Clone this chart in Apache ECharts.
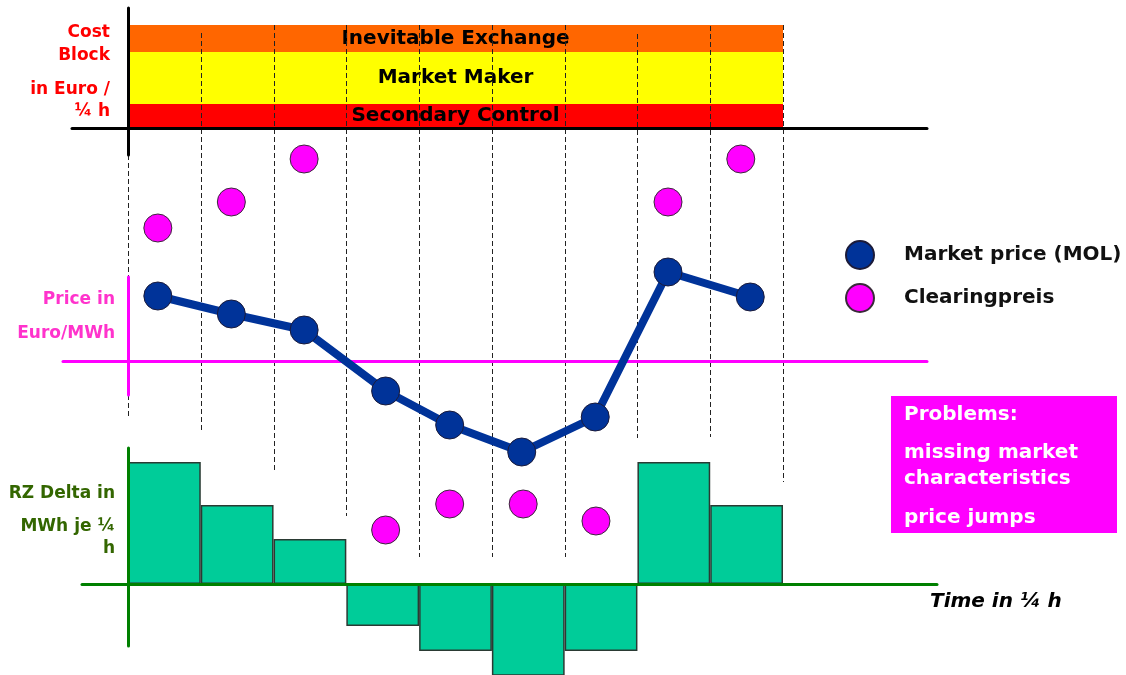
<!DOCTYPE html>
<html>
<head>
<meta charset="utf-8">
<script src="https://cdn.jsdelivr.net/npm/echarts@6/dist/echarts.min.js"></script>
<style>html,body{margin:0;padding:0;background:#fff}#chart{width:1126px;height:675px}</style>
</head>
<body>
<div id="chart"></div>
<script>
// ---------- data ----------
const quarterHours = [1, 2, 3, 4, 5, 6, 7, 8, 9];
// cost block components (Euro / 1/4 h, schematic)
const costNames = ['Secondary Control', 'Market Maker', 'Inevitable Exchange'];
const costValues = [2.4, 5.2, 2.7];
// Market price (MOL): [time position in 1/4 h, price]
const marketPriceX = [0.41, 1.42, 2.42, 3.54, 4.42, 5.41, 6.42, 7.42, 8.55];
const marketPrice  = [6.5, 4.7, 3.1, -3.0, -6.4, -9.1, -5.6, 8.9, 6.4];
// Clearingpreis
const clearingX     = [0.41, 1.42, 2.42, 3.54, 4.42, 5.43, 6.43, 7.42, 8.42];
const clearingPrice = [13.3, 15.9, 20.2, -16.9, -14.3, -14.3, -16.0, 15.9, 20.2];
// RZ Delta in MWh je 1/4 h
const rzDelta = [12.2, 7.9, 4.5, -4.2, -6.7, -11, -6.7, 12.2, 7.9];
// dashed quarter-hour dividers: [boundary, top, bottom] in price-axis units
const dividerBoundary = [0, 1, 2, 3, 4, 5, 6, 7, 8, 9];
const dividerTop    = [20.6, 32.8, 33.6, 33.6, 33.6, 33.6, 33.6, 32.7, 33.5, 33.6];
const dividerBottom = [-5.7, -6.9, -11.2, -15.5, -19.6, -19.6, -19.6, -7.7, -7.6, -12.1];

// ---------- layout ----------
const FONT = 'DejaVu Sans';
const X0 = 128, COLW = 655 / 9;
const mainGrid = { left: X0, top: 0, width: 655, height: 675 };

function crossAxes(color, width, xFrom, xTo, yFrom, yTo, yZero, z) {
  const grid = { left: xFrom, top: yFrom, width: xTo - xFrom, height: yTo - yFrom };
  const common = { show: true, axisTick: { show: false }, axisLabel: { show: false }, splitLine: { show: false }, z: z };
  const x = Object.assign({ type: 'value', min: xFrom - X0, max: xTo - X0,
    axisLine: { show: true, onZero: true, lineStyle: { color: color, width: width } } }, common);
  const y = Object.assign({ type: 'value', min: -(yTo - yZero), max: yZero - yFrom,
    axisLine: { show: true, onZero: true, lineStyle: { color: color, width: width } } }, common);
  return { grid, x, y };
}
const black = crossAxes('#000000', 3, 72, 927, 8, 155, 128, 4);
const pink  = crossAxes('#FF00FF', 3, 63, 927, 277, 395, 361, 3);
const green = crossAxes('#008000', 3, 82, 937, 448, 646, 584, 6);

const hidden = { show: false };

const grids = [mainGrid, { left: X0, top: 25, width: 655, height: 103 }, black.grid, pink.grid, green.grid];
const xAxes = [
  Object.assign({ type: 'value', gridIndex: 0, min: 0, max: 9 }, hidden),
  Object.assign({ type: 'category', gridIndex: 1, data: ['block'] }, hidden),
  Object.assign({ gridIndex: 2 }, black.x),
  Object.assign({ gridIndex: 3 }, pink.x),
  Object.assign({ gridIndex: 4 }, green.x)
];
const yAxes = [
  Object.assign({ type: 'value', gridIndex: 0, min: -31.4, max: 36.1 }, hidden),
  Object.assign({ type: 'value', gridIndex: 0, min: -9.1, max: 58.4 }, hidden),
  Object.assign({ type: 'value', gridIndex: 1, min: 0, max: 10.3 }, hidden),
  Object.assign({ gridIndex: 2 }, black.y),
  Object.assign({ gridIndex: 3 }, pink.y),
  Object.assign({ gridIndex: 4 }, green.y)
];

const bandColors = ['#FF0000', '#FFFF00', '#FF6600'];
const bandSeries = costNames.map((n, i) => ({
  type: 'bar', name: n, xAxisIndex: 1, yAxisIndex: 2, stack: 'cost',
  barWidth: '100%', data: [costValues[i]], z: 1, silent: true,
  itemStyle: { color: bandColors[i] },
  label: { show: true, position: 'inside', formatter: n, color: '#000', fontFamily: FONT,
    fontWeight: 'bold', fontSize: 20, textBorderWidth: 0 }
}));

const dividerData = dividerBoundary.map((b, i) => [b, dividerTop[i], dividerBottom[i]]);

function txt(text, x, y, fill, font, align) {
  return { type: 'text', x: x, y: y, z: 10,
    style: { text: text, fill: fill, font: font, align: align || 'left', verticalAlign: 'middle' } };
}
const AX_FONT = 'bold 17px "DejaVu Sans"';
const BOX_FONT = 'bold 20px "DejaVu Sans"';

const option = {
  backgroundColor: '#ffffff',
  animation: false,
  grid: grids, xAxis: xAxes, yAxis: yAxes,
  legend: {
    orient: 'vertical', left: 845, top: 240, padding: 0, itemWidth: 28, itemHeight: 28, itemGap: 13,
    data: [{ name: 'Market price (MOL)', icon: 'circle' }, { name: 'Clearingpreis', icon: 'circle' }],
    textStyle: { fontFamily: FONT, fontWeight: 'bold', fontSize: 20, lineHeight: 24, color: '#111', padding: [0, 0, 0, 25] }
  },
  series: bandSeries.concat([
    {
      type: 'custom', name: 'dividers', xAxisIndex: 0, yAxisIndex: 0, z: 2, silent: true,
      encode: { x: 0, y: [1, 2] },
      data: dividerData,
      renderItem: function (params, api) {
        const p1 = api.coord([api.value(0), api.value(1)]);
        const p2 = api.coord([api.value(0), api.value(2)]);
        return { type: 'line', shape: { x1: Math.round(p1[0]) + 0.5, y1: p1[1], x2: Math.round(p2[0]) + 0.5, y2: p2[1] },
          style: { stroke: '#222', lineWidth: 1, lineDash: [5, 3] } };
      }
    },
    {
      type: 'bar', name: 'RZ Delta', xAxisIndex: 0, yAxisIndex: 1, z: 3, silent: true,
      barWidth: COLW,
      data: rzDelta.map((v, i) => [quarterHours[i] - 0.5, v]),
      itemStyle: { color: '#00CC99', borderColor: '#2a3a33', borderWidth: 1.5 }
    },
    {
      type: 'line', name: 'Market price (MOL)', xAxisIndex: 0, yAxisIndex: 0, z: 8,
      data: marketPriceX.map((x, i) => [x, marketPrice[i]]),
      symbol: 'circle', symbolSize: 28, showSymbol: true,
      lineStyle: { color: '#003399', width: 8 },
      itemStyle: { color: '#003399', borderColor: '#1b1b3a', borderWidth: 1 }
    },
    {
      type: 'scatter', name: 'Clearingpreis', xAxisIndex: 0, yAxisIndex: 0, z: 8,
      data: clearingX.map((x, i) => [x, clearingPrice[i]]),
      symbol: 'circle', symbolSize: 28,
      itemStyle: { color: '#FF00FF', borderColor: '#3a2a3a', borderWidth: 1, opacity: 1 }
    }
  ]),
  graphic: [
    txt('Cost', 110, 33, '#FF0000', AX_FONT, 'right'),
    txt('Block', 110, 56, '#FF0000', AX_FONT, 'right'),
    txt('in Euro /', 110, 90, '#FF0000', AX_FONT, 'right'),
    txt('¼ h', 110, 112, '#FF0000', AX_FONT, 'right'),
    txt('Price in', 115, 300, '#FF33CC', AX_FONT, 'right'),
    txt('Euro/MWh', 115, 334, '#FF33CC', AX_FONT, 'right'),
    txt('RZ Delta in', 115, 494, '#336600', AX_FONT, 'right'),
    txt('MWh je ¼', 115, 527, '#336600', AX_FONT, 'right'),
    txt('h', 115, 549, '#336600', AX_FONT, 'right'),
    txt('Time in ¼ h', 930, 602, '#000', 'italic bold 20px "DejaVu Sans"'),
    { type: 'rect', z: 9, shape: { x: 891, y: 396, width: 226, height: 137 }, style: { fill: '#FF00FF' } },
    txt('Problems:', 904, 415, '#fff', BOX_FONT),
    txt('missing market', 904, 453, '#fff', BOX_FONT),
    txt('characteristics', 904, 479, '#fff', BOX_FONT),
    txt('price jumps', 904, 518, '#fff', BOX_FONT)
  ]
};

const chart = echarts.init(document.getElementById('chart'), null, { renderer: 'canvas' });
chart.setOption(option);
</script>
</body>
</html>
